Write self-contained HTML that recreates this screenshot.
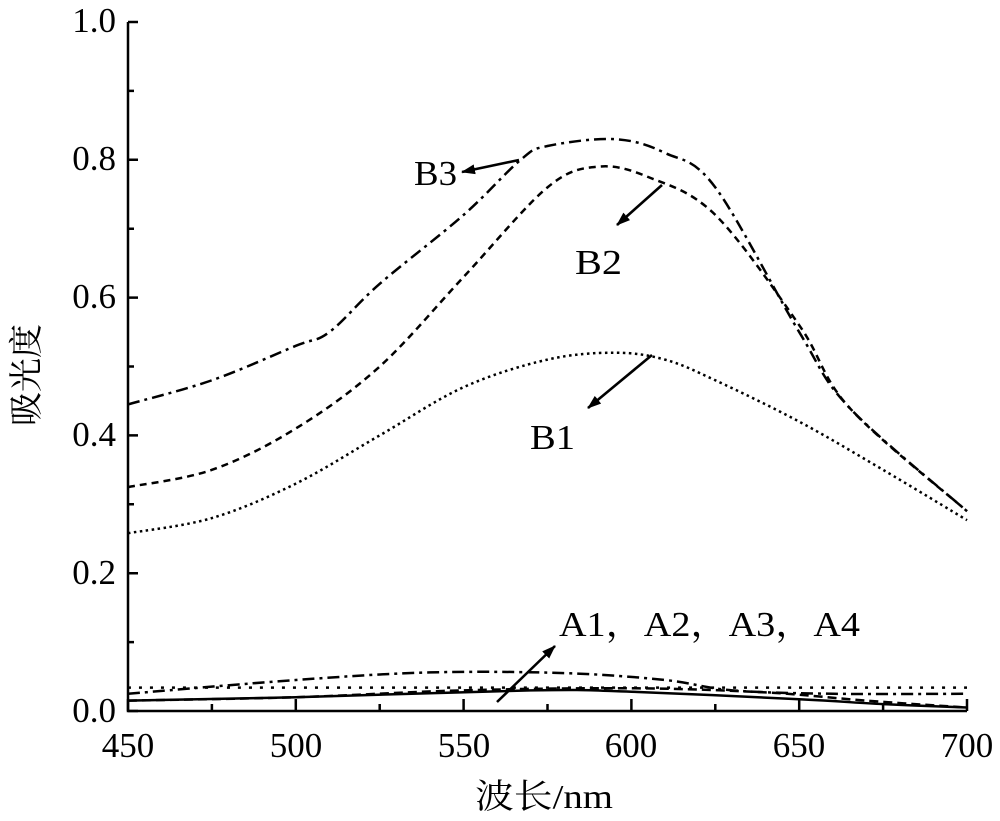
<!DOCTYPE html>
<html><head><meta charset="utf-8"><style>
html,body{margin:0;padding:0;background:#fff}
svg{display:block}
text{font-family:"Liberation Serif","Noto Serif CJK SC",serif;fill:#000}
</style></head><body>
<svg id="s" width="1000" height="821" viewBox="0 0 1000 821" xmlns="http://www.w3.org/2000/svg">
<defs><marker id="ah" markerWidth="14" markerHeight="10" refX="13" refY="5" orient="auto" markerUnits="userSpaceOnUse"><path d="M0,0 L14,5 L0,10 Z" fill="#000"/></marker></defs>
<g id="axes" stroke="#000" stroke-width="2.5" fill="none">
<path d="M128,22 L128,711 L967,711"/>
</g>
<g font-size="35" text-anchor="end">
<text x="116" y="722">0.0</text><text x="116" y="584">0.2</text><text x="116" y="446">0.4</text>
<text x="116" y="308">0.6</text><text x="116" y="170">0.8</text><text x="116" y="32">1.0</text>
</g>
<g font-size="35" text-anchor="middle">
<text x="128" y="757">450</text><text x="296" y="757">500</text><text x="464" y="757">550</text>
<text x="631" y="757">600</text><text x="799" y="757">650</text><text x="967" y="757">700</text>
</g>
<text font-size="34" x="475" y="808" textLength="138" lengthAdjust="spacingAndGlyphs">波长/nm</text>
<text font-size="34" transform="translate(38,375) rotate(-90)" text-anchor="middle">吸光度</text>
<g font-size="35">
<text x="414" y="185" textLength="43" lengthAdjust="spacingAndGlyphs">B3</text>
<text x="575" y="274" textLength="47" lengthAdjust="spacingAndGlyphs">B2</text>
<text x="530" y="449" textLength="45" lengthAdjust="spacingAndGlyphs">B1</text>
<text x="559" y="636" textLength="301" lengthAdjust="spacingAndGlyphs">A1，A2，A3，A4</text>
</g>
<g stroke="#000" stroke-width="2.6" marker-end="url(#ah)">
<line x1="519" y1="160" x2="462" y2="172"/>
<line x1="662" y1="185" x2="617" y2="225"/>
<line x1="652" y1="355" x2="588" y2="408"/>
<line x1="497" y1="702" x2="555" y2="646"/>
</g>
<g id="curves" fill="none" stroke="#000" stroke-width="2.5"></g>
</svg>
<script>
var X=function(w){return 128+(w-450)*3.356},Y=function(v){return 711-v*689};
var ax=document.getElementById('axes'),d='';
for(var v=0;v<=1.001;v+=0.1){var y=Y(v),L=(Math.round(v*10)%2==0)?10:6;d+='M128,'+y+' L'+(128+L)+','+y+' ';}
for(var w=450;w<=700;w+=25){var x=X(w),L=((w-450)%50==0)?12:7;d+='M'+x+',711 L'+x+','+(711-L)+' ';}
var p=document.createElementNS('http://www.w3.org/2000/svg','path');p.setAttribute('d',d);ax.appendChild(p);
function path(pts){var P=pts.map(function(q){return [X(q[0]),Y(q[1])]});var s='M'+P[0][0]+','+P[0][1];
for(var i=0;i<P.length-1;i++){var p0=P[i-1]||P[i],p1=P[i],p2=P[i+1],p3=P[i+2]||p2;
s+=' C'+(p1[0]+(p2[0]-p0[0])/6)+','+(p1[1]+(p2[1]-p0[1])/6)+' '+(p2[0]-(p3[0]-p1[0])/6)+','+(p2[1]-(p3[1]-p1[1])/6)+' '+p2[0]+','+p2[1];}return s;}
var series=[
[[[450,.445],[475,.48],[500,.53],[510,.55],[525,.62],[550,.72],[567,.80],[575,.82],[595,.83],[610,.81],[625,.76],[650,.55],[665,.44],[700,.29]],'12,5,3,5'],
[[[450,.325],[475,.35],[500,.41],[525,.50],[550,.63],[575,.76],[590,.79],[605,.775],[625,.72],[650,.56],[665,.44],[700,.29]],'7,5'],
[[[450,.258],[475,.28],[500,.33],[525,.40],[550,.47],[575,.51],[595,.52],[610,.51],[625,.48],[650,.42],[675,.35],[700,.277]],'2.5,3.5'],
[[[450,.034],[550,.034],[650,.034],[700,.034]],'3,8'],
[[[450,.025],[500,.045],[540,.056],[580,.055],[610,.045],[630,.03],[660,.025],[700,.025]],'12,5,3,5'],
[[[450,.015],[500,.02],[550,.03],[600,.033],[640,.027],[670,.015],[700,.005]],'9,5'],
[[[450,.015],[500,.02],[570,.03],[600,.028],[650,.017],[675,.01],[700,.005]],'']];
var g=document.getElementById('curves');
series.forEach(function(sr){var e=document.createElementNS('http://www.w3.org/2000/svg','path');e.setAttribute('d',path(sr[0]));if(sr[1])e.setAttribute('stroke-dasharray',sr[1]);g.appendChild(e);});
</script>
</body></html>
